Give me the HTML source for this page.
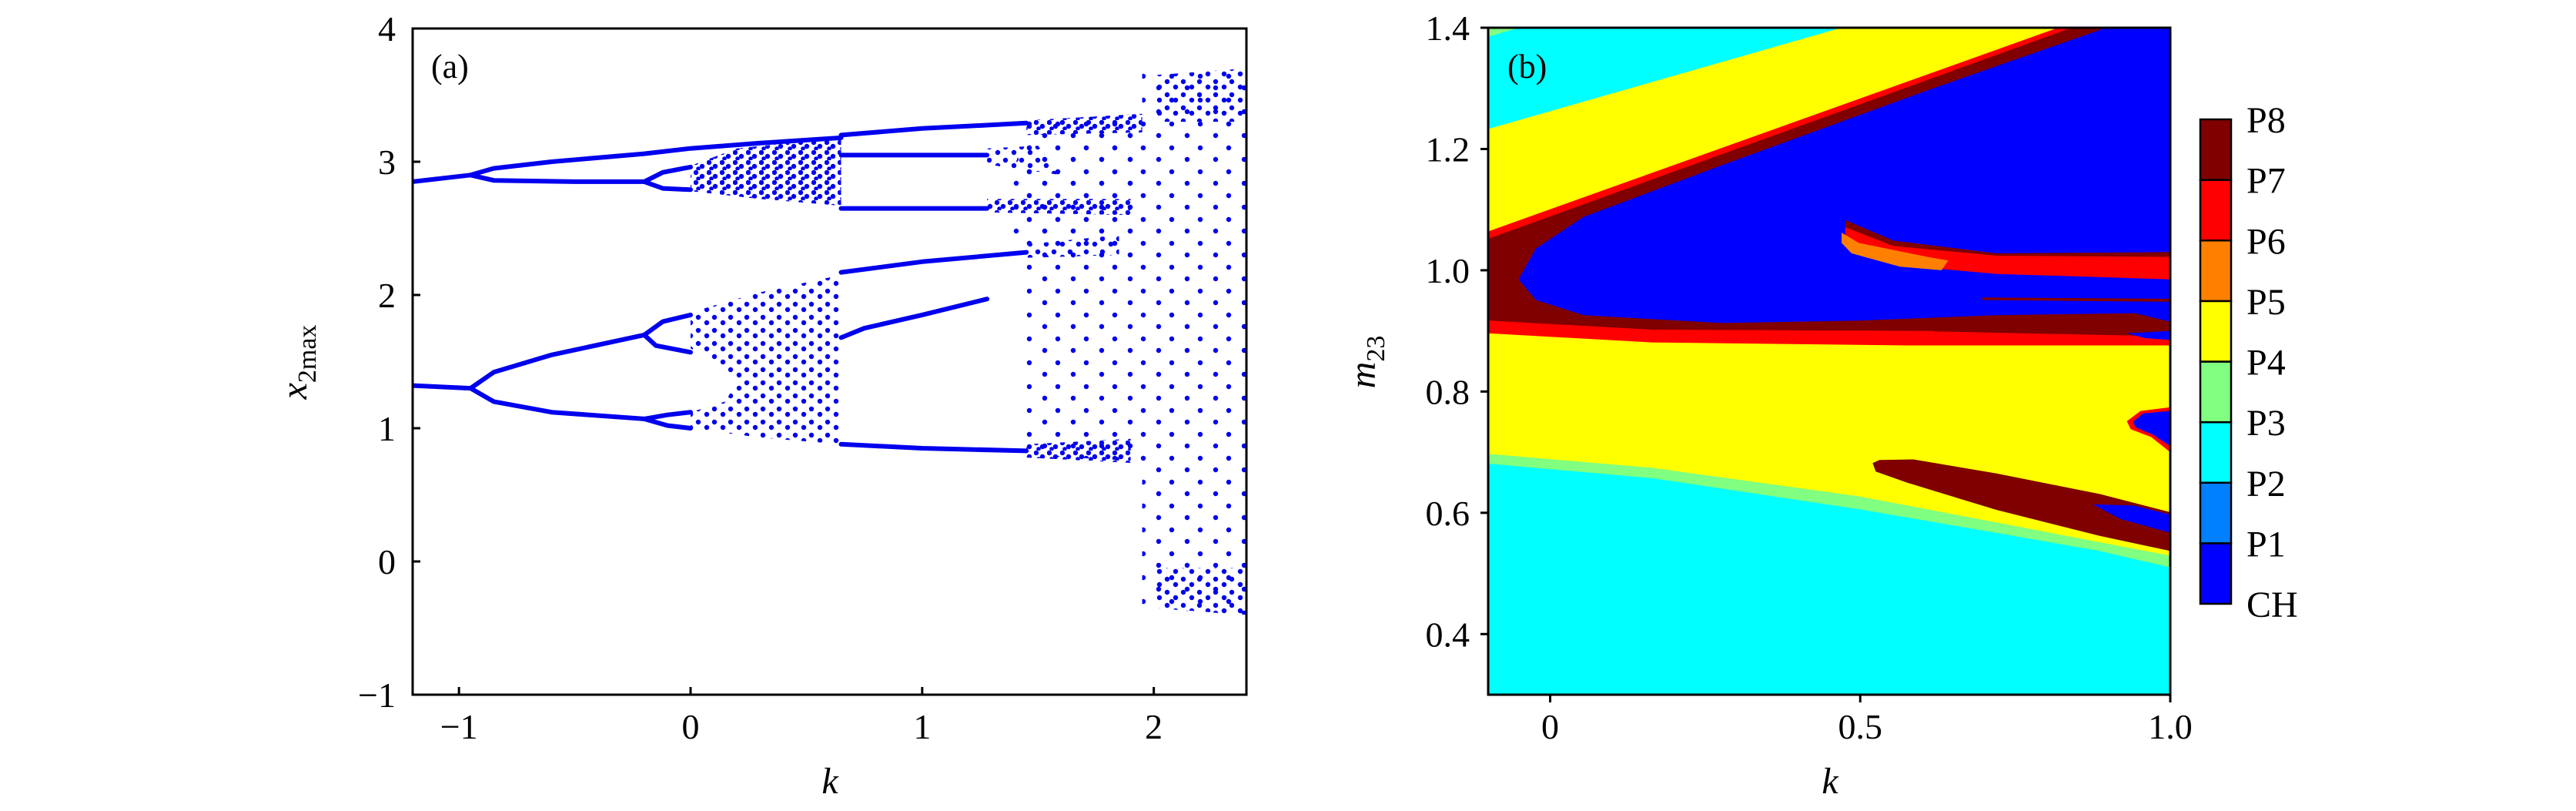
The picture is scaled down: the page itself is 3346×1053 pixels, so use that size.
<!DOCTYPE html>
<html><head><meta charset="utf-8">
<style>
html,body{margin:0;padding:0;background:#fff;}
svg{display:block;}
text{font-family:"Liberation Serif",serif;fill:#000;}
</style></head>
<body>
<svg id="fig" width="3346" height="1053" viewBox="0 0 3346 1053" xmlns="http://www.w3.org/2000/svg">
<defs>
<pattern id="dense" patternUnits="userSpaceOnUse" width="17" height="13">
<circle cx="3" cy="3" r="3.2" fill="#0000ee"/><circle cx="11" cy="8" r="3.2" fill="#0000ee"/><circle cx="6" cy="11" r="2.8" fill="#0000ee"/>
</pattern>
<pattern id="medium" patternUnits="userSpaceOnUse" width="21" height="17">
<circle cx="4" cy="4" r="3.2" fill="#0000ee"/><circle cx="15" cy="11" r="3.2" fill="#0000ee"/>
</pattern>
<pattern id="sparse" patternUnits="userSpaceOnUse" width="37" height="31">
<circle cx="5" cy="6" r="3.2" fill="#0000ee"/><circle cx="25" cy="21" r="3.2" fill="#0000ee"/>
</pattern>
<clipPath id="clipA"><rect x="536" y="37" width="1083" height="865"/></clipPath>
<clipPath id="clipB"><rect x="1933" y="36" width="886" height="866"/></clipPath>
</defs>
<g id="panelA"></g>
<g id="panelB"></g>
</svg>
<script>
// ---------- Panel (a) data ----------
const aXTicks = [-1, 0, 1, 2];
const aYTicks = [-1, 0, 1, 2, 3, 4];
const aXTickLabels = ["\u22121", "0", "1", "2"];
const aYTickLabels = ["\u22121", "0", "1", "2", "3", "4"];
// branch polylines [k, x]
const branchP1Top = [[-1.2,2.85],[-0.95,2.9]];
const branchTopUpper = [[-0.95,2.9],[-0.85,2.95],[-0.6,3.0],[-0.2,3.06],[0,3.1],[0.3,3.14],[0.65,3.18]];
const branchTopLower = [[-0.95,2.9],[-0.85,2.86],[-0.5,2.85],[-0.2,2.85]];
const branchTopSplitA = [[-0.2,2.85],[-0.12,2.92],[0,2.96]];
const branchTopSplitB = [[-0.2,2.85],[-0.12,2.8],[0,2.79]];
const branchP4Top = [[0.65,3.2],[1.0,3.25],[1.45,3.29]];
const branchP4Mid = [[0.65,3.05],[1.28,3.05]];
const branchP4Low = [[0.65,2.65],[1.28,2.65]];
const branchP1Low = [[-1.2,1.32],[-0.95,1.3]];
const branchLowUp = [[-0.95,1.3],[-0.85,1.42],[-0.6,1.55],[-0.2,1.7]];
const branchLowUpA = [[-0.2,1.7],[-0.12,1.8],[0,1.85]];
const branchLowUpB = [[-0.2,1.7],[-0.15,1.62],[0,1.57]];
const branchLowDown = [[-0.95,1.3],[-0.85,1.2],[-0.6,1.12],[-0.2,1.07]];
const branchLowDownA = [[-0.2,1.07],[-0.1,1.1],[0,1.12]];
const branchLowDownB = [[-0.2,1.07],[-0.1,1.02],[0,1.0]];
const branchP4C = [[0.65,2.17],[1.0,2.25],[1.45,2.32]];
const branchP4D = [[0.65,1.68],[0.75,1.75],[1.0,1.85],[1.28,1.97]];
const branchP4E = [[0.65,0.88],[1.0,0.85],[1.45,0.83]];
const branches = [branchP1Top,branchTopUpper,branchTopLower,branchTopSplitA,branchTopSplitB,branchP4Top,branchP4Mid,branchP4Low,branchP1Low,branchLowUp,branchLowUpA,branchLowUpB,branchLowDown,branchLowDownA,branchLowDownB,branchP4C,branchP4D,branchP4E];
// chaotic bands (polygons [k, x]) with density
const chaosTop = [[0,2.78],[0,2.97],[0.2,3.1],[0.65,3.18],[0.65,2.67],[0.3,2.72]];
const chaosMid = [[0,1.6],[0,1.87],[0.3,2.02],[0.65,2.15],[0.65,0.88],[0.3,0.93],[0,1.0],[0,1.12],[0.15,1.2],[0.2,1.35],[0.15,1.45]];
const chaosWide = [[1.45,0.8],[1.45,3.33],[1.95,3.36],[1.95,0.75]];
const chaosUpperMid = [[1.35,2.75],[1.45,3.2],[1.95,3.3],[1.95,2.2],[1.6,2.25],[1.4,2.4]];
const chaosStripTop = [[1.45,3.2],[1.45,3.31],[1.95,3.36],[1.95,3.22]];
const chaosStrip3 = [[1.28,2.98],[1.28,3.1],[1.5,3.12],[1.6,2.9]];
const chaosStrip2 = [[1.28,2.62],[1.28,2.72],[1.9,2.72],[1.9,2.6]];
const chaosStrip23 = [[1.45,2.28],[1.45,2.38],[1.85,2.45],[1.85,2.3]];
const chaosStrip08 = [[1.45,0.78],[1.45,0.88],[1.9,0.92],[1.9,0.74]];
const chaosRight = [[1.95,-0.35],[1.95,3.7],[2.4,3.7],[2.4,-0.4]];
const chaosRightTop = [[2.0,3.3],[2.0,3.65],[2.4,3.7],[2.4,3.3]];
const chaosRightLow = [[2.0,-0.35],[2.0,-0.05],[2.4,-0.05],[2.4,-0.4]];
const bands = [[chaosTop,"dense"],[chaosMid,"medium"],[chaosWide,"sparse"],[chaosUpperMid,"sparse"],[chaosStripTop,"dense"],[chaosStrip3,"medium"],[chaosStrip2,"dense"],[chaosStrip23,"medium"],[chaosStrip08,"dense"],[chaosRight,"sparse"],[chaosRightTop,"medium"],[chaosRightLow,"medium"]];

// ---------- Panel (b) data ----------
const bXTicks = [0, 0.5, 1.0];
const bXTickLabels = ["0", "0.5", "1.0"];
const bYTicks = [0.4, 0.6, 0.8, 1.0, 1.2, 1.4];
const bYTickLabels = ["0.4", "0.6", "0.8", "1.0", "1.2", "1.4"];
const cbLabels = ["CH","P1","P2","P3","P4","P5","P6","P7","P8"];
const cbColors = ["#0000ff","#0080ff","#00ffff","#80ff80","#ffff00","#ff8000","#ff0000","#800000"];
// region polygons [k, m]
const regYellow = [[-0.1,1.233],[0.47,1.4],[1.0,1.4],[1.0,0.529],[0.719,0.584],[0.498,0.627],[0.165,0.674],[-0.1,0.697]];
const regGreen = [[-0.1,0.697],[0.165,0.674],[0.498,0.627],[0.719,0.584],[1.0,0.529],[1.0,0.51],[0.886,0.537],[0.719,0.567],[0.498,0.606],[0.165,0.657],[-0.1,0.681]];
const regGreenCorner = [[-0.1,1.4],[-0.05,1.4],[-0.1,1.385]];
const regRedWedge = [[-0.1,1.064],[0.819,1.4],[1.0,1.4],[1.0,0.876],[0.575,0.876],[0.165,0.881],[-0.1,0.896]];
const regDarkWedge = [[-0.1,1.052],[0.841,1.4],[1.0,1.4],[1.0,0.891],[0.575,0.9],[0.165,0.902],[-0.1,0.917]];
const regRedBelow = [[-0.1,0.917],[0.165,0.902],[0.575,0.9],[0.62,0.9],[0.58,0.89],[0.165,0.883],[-0.1,0.9]];
const regBlueWedge = [[-0.051,0.985],[-0.023,1.036],[0.054,1.088],[0.276,1.173],[0.609,1.297],[0.897,1.4],[1.0,1.4],[1.0,0.93],[0.719,0.926],[0.498,0.917],[0.276,0.913],[0.054,0.926],[-0.023,0.951]];
const regDarkHook = [[0.476,1.083],[0.553,1.049],[0.719,1.028],[1.0,1.03],[1.0,1.018],[0.719,1.021],[0.553,1.036],[0.476,1.066]];
const regRedHook = [[0.476,1.071],[0.553,1.04],[0.719,1.024],[1.0,1.022],[1.0,0.985],[0.719,0.994],[0.631,1.002],[0.531,1.028],[0.476,1.054]];
const regOrangeHook = [[0.47,1.062],[0.498,1.045],[0.609,1.022],[0.642,1.016],[0.631,1.0],[0.564,1.006],[0.486,1.028],[0.47,1.045]];
const regDarkLine = [[0.697,0.955],[1.0,0.953],[1.0,0.948],[0.697,0.951]];
const regBlueSliver = [[0.93,0.896],[1.0,0.9],[1.0,0.885],[0.96,0.888]];
const regBlueSliver2 = [[0.94,0.93],[1.0,0.93],[1.0,0.915]];
const regDarkBlob = [[0.52,0.682],[0.531,0.687],[0.586,0.688],[0.719,0.665],[0.886,0.631],[1.0,0.601],[1.0,0.537],[0.886,0.562],[0.719,0.605],[0.575,0.65],[0.525,0.668]];
const regBlueBlob = [[0.875,0.614],[0.941,0.612],[1.0,0.597],[1.0,0.567],[0.919,0.59]];
const regRedRight = [[0.93,0.751],[0.952,0.768],[1.0,0.774],[1.0,0.7],[0.969,0.725],[0.936,0.738]];
const regBlueRight = [[0.94,0.75],[0.956,0.764],[1.0,0.768],[1.0,0.71],[0.972,0.729],[0.944,0.741]];
const regions = [[regYellow,"#ffff00"],[regGreen,"#80ff80"],[regGreenCorner,"#80ff80"],[regRedWedge,"#ff0000"],[regDarkWedge,"#800000"],[regRedBelow,"#ff0000"],[regBlueWedge,"#0000ff"],[regDarkHook,"#800000"],[regRedHook,"#ff0000"],[regOrangeHook,"#ff8000"],[regDarkLine,"#800000"],[regBlueSliver,"#0000ff"],[regBlueSliver2,"#0000ff"],[regDarkBlob,"#800000"],[regBlueBlob,"#0000ff"],[regRedRight,"#ff0000"],[regBlueRight,"#0000ff"]];

// ---------- scales ----------
const A = {l:536,r:1619,t:37,b:902,x0:-1.2,x1:2.4,y0:-1,y1:4};
const B = {l:1933,r:2819,t:36,b:902,x0:-0.1,x1:1.0,y0:0.3,y1:1.4};
function ax(v){return A.l+(v-A.x0)/(A.x1-A.x0)*(A.r-A.l);}
function ay(v){return A.b-(v-A.y0)/(A.y1-A.y0)*(A.b-A.t);}
function bx(v){return B.l+(v-B.x0)/(B.x1-B.x0)*(B.r-B.l);}
function by(v){return B.b-(v-B.y0)/(B.y1-B.y0)*(B.b-B.t);}
const NS="http://www.w3.org/2000/svg";
function mk(tag,attrs,parent){const e=document.createElementNS(NS,tag);for(const k in attrs)e.setAttribute(k,attrs[k]);parent.appendChild(e);return e;}
function pts(arr,fx,fy){return arr.map(p=>fx(p[0]).toFixed(1)+","+fy(p[1]).toFixed(1)).join(" ");}

// ---------- draw panel (a) ----------
const gA=document.getElementById('panelA');
const plotA=mk('g',{'clip-path':'url(#clipA)'},gA);


bands.forEach((b,i)=>{
  const p=mk('polygon',{points:pts(b[0],ax,ay),fill:'url(#'+b[1]+')'},plotA);
  
  
});
branches.forEach((br,i)=>{
  const p=mk('polyline',{points:pts(br,ax,ay),fill:'none',stroke:'#0000ee','stroke-width':6,'stroke-linejoin':'round','stroke-linecap':'round'},plotA);
  
  
});
const frameA=mk('rect',{x:A.l,y:A.t,width:A.r-A.l,height:A.b-A.t,fill:'none',stroke:'#000','stroke-width':3},gA);


aXTicks.forEach((v,i)=>{
  const t=mk('line',{x1:ax(v),x2:ax(v),y1:A.b,y2:A.b-10,stroke:'#000','stroke-width':3},gA);
  
  
  const l=mk('text',{x:ax(v),y:A.b+57,'font-size':46,'text-anchor':'middle'},gA);
  l.textContent=aXTickLabels[i];
  
  
});
aYTicks.forEach((v,i)=>{
  const t=mk('line',{x1:A.l,x2:A.l+10,y1:ay(v),y2:ay(v),stroke:'#000','stroke-width':3},gA);
  
  
  const l=mk('text',{x:A.l-22,y:ay(v)+16,'font-size':46,'text-anchor':'end'},gA);
  l.textContent=aYTickLabels[i];
  
  
});
const lblA=mk('text',{x:560,y:101,'font-size':44},gA);
lblA.textContent='(a)';


const xtA=mk('text',{x:1078,y:1030,'font-size':48,'font-style':'italic','text-anchor':'middle'},gA);
xtA.textContent='k';


const ytA=mk('text',{x:0,y:0,'font-size':48,'text-anchor':'middle',transform:'translate(398,470) rotate(-90)'},gA);
ytA.innerHTML='<tspan font-style="italic">x</tspan><tspan font-size="34" dy="12">2max</tspan>';



// ---------- draw panel (b) ----------
const gB=document.getElementById('panelB');
const plotB=mk('g',{'clip-path':'url(#clipB)'},gB);


const bg=mk('rect',{x:B.l,y:B.t,width:B.r-B.l,height:B.b-B.t,fill:'#00ffff'},plotB);


regions.forEach((r,i)=>{
  const p=mk('polygon',{points:pts(r[0],bx,by),fill:r[1]},plotB);
  
  
});
const frameB=mk('rect',{x:B.l,y:B.t,width:B.r-B.l,height:B.b-B.t,fill:'none',stroke:'#000','stroke-width':3},gB);


bXTicks.forEach((v,i)=>{
  const t=mk('line',{x1:bx(v),x2:bx(v),y1:B.b,y2:B.b+10,stroke:'#000','stroke-width':3},gB);
  
  
  const l=mk('text',{x:bx(v),y:B.b+57,'font-size':46,'text-anchor':'middle'},gB);
  l.textContent=bXTickLabels[i];
  
  
});
bYTicks.forEach((v,i)=>{
  const t=mk('line',{x1:B.l,x2:B.l-10,y1:by(v),y2:by(v),stroke:'#000','stroke-width':3},gB);
  
  
  const l=mk('text',{x:B.l-24,y:by(v)+16,'font-size':46,'text-anchor':'end'},gB);
  l.textContent=bYTickLabels[i];
  
  
});
const lblB=mk('text',{x:1958,y:101,'font-size':44},gB);
lblB.textContent='(b)';


const xtB=mk('text',{x:2377,y:1030,'font-size':48,'font-style':'italic','text-anchor':'middle'},gB);
xtB.textContent='k';


const ytB=mk('text',{x:0,y:0,'font-size':48,'text-anchor':'middle',transform:'translate(1786,470) rotate(-90)'},gB);
ytB.innerHTML='<tspan font-style="italic">m</tspan><tspan font-size="34" dy="12">23</tspan>';


// colorbar
const cb={l:2858,r:2898,t:155,b:784};
const seg=(cb.b-cb.t)/cbColors.length;
const gCb=mk('g',{},gB);


cbColors.forEach((c,i)=>{
  const r=mk('rect',{x:cb.l,y:cb.b-(i+1)*seg,width:cb.r-cb.l,height:seg,fill:c,stroke:'#000','stroke-width':2.5},gCb);
  
  
});
cbLabels.forEach((t,i)=>{
  const l=mk('text',{x:2918,y:cb.b-i*seg+17,'font-size':48},gCb);
  l.textContent=t;
  
  
});
</script>
</body></html>
